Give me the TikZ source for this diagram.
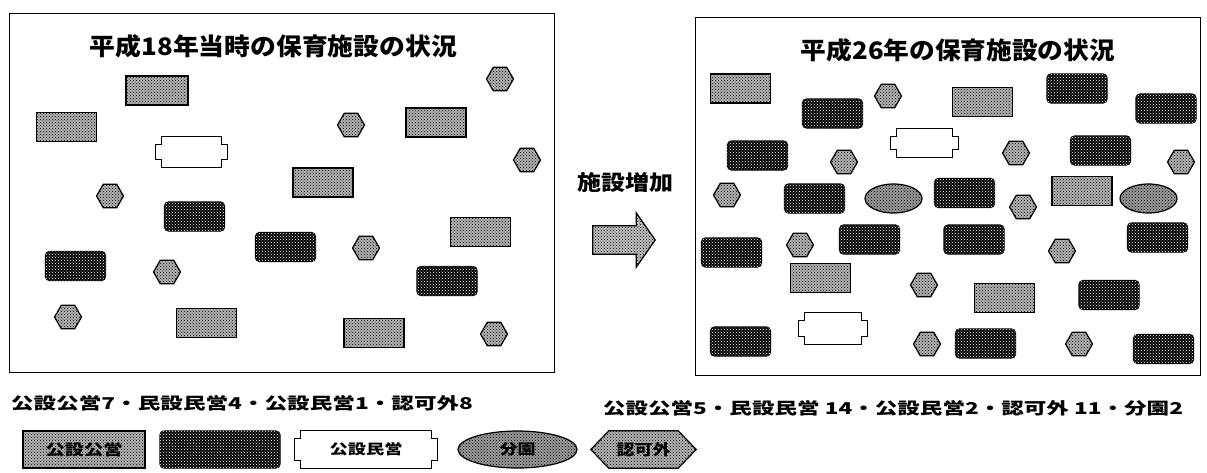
\documentclass[tikz,border=0pt]{standalone}
\usepackage{fontspec}
\newfontfamily\jp{Noto Sans CJK JP}
\usetikzlibrary{patterns,shapes.geometric}
\tikzset{
  frame/.style={draw=black, line width=1.4pt},
  kouei/.style={draw=black, line width=1.2pt, fill=black!30,
    postaction={pattern=crosshatch dots, pattern color=black},
    minimum width=60pt, minimum height=29pt, inner sep=0pt},
  minei/.style={draw=black, line width=1.2pt, fill=black, rounded corners=4pt,
    postaction={pattern=crosshatch dots, pattern color=white}},
  mineibox/.style={minei, minimum width=60pt, minimum height=29pt, inner sep=0pt},
  ninka/.style={draw=black, line width=1.2pt, fill=black!30,
    postaction={pattern=crosshatch dots, pattern color=black},
    regular polygon, regular polygon sides=6, minimum size=27pt, inner sep=0pt},
  bunen/.style={draw=black, line width=1.2pt, fill=black!40,
    postaction={pattern=crosshatch dots, pattern color=black}, ellipse,
    minimum width=57pt, minimum height=29pt, inner sep=0pt},
  kmbox/.style={inner sep=0pt},
  kmline/.style={draw=black, line width=1.2pt},
  hexline/.style={draw=black, line width=1.2pt, fill=black!30,
    postaction={pattern=crosshatch dots, pattern color=black}},
  arrline/.style={draw=black, line width=1.2pt, fill=black!25,
    postaction={pattern=crosshatch dots, pattern color=black}},
  txt/.style={inner sep=0pt, font=\jp\bfseries}
}
\newcommand{\koumin}[6]{%
  \node[kmbox, minimum width=#4pt, minimum height=#5pt] (#1) at (#2,#3) {#6};
  \draw[kmline] ([xshift=6pt]#1.north west) -- ([xshift=-6pt]#1.north east)
    -- ++(0,-8pt) -- ++(6pt,0) -- ([yshift=8pt]#1.south east) -- ++(-6pt,0)
    -- ++(0,-8pt) -- ([xshift=6pt]#1.south west) -- ++(0,8pt) -- ++(-6pt,0)
    -- ([yshift=-8pt]#1.north west) -- ++(6pt,0) -- cycle;}
\begin{document}
\begin{tikzpicture}[x=1pt,y=-1pt]
\useasboundingbox (0,0) rectangle (1207,472);
\fill[white] (0,0) rectangle (1207,472);

% ---------- left panel ----------
\node[frame, minimum width=545pt, minimum height=359pt, inner sep=0pt, anchor=north west] (lf) at (9,13) {};
\node[txt] (lt) at (273.5,46) {\resizebox{367pt}{21pt}{平成18年当時の保育施設の状況}};

\node[kouei, minimum width=62pt] (la1) at (157,90.5) {};
\node[kouei] (la2) at (66.5,127) {};
\node[kouei] (la3) at (436,122.5) {};
\node[kouei] (la4) at (323,182.5) {};
\node[kouei] (la5) at (480.5,232) {};
\node[kouei] (la6) at (206.5,323) {};
\node[kouei] (la7) at (374,333) {};

\node[mineibox] (lb1) at (194.5,216.5) {};
\node[mineibox] (lb2) at (285.5,247) {};
\node[mineibox] (lb3) at (75.5,266) {};
\node[mineibox] (lb4) at (447,281) {};

\koumin{lc1}{191.5}{152}{71}{30}{}

\node[ninka] (ld1) at (500,79) {};
\node[ninka] (ld2) at (351,125) {};
\node[ninka] (ld3) at (527,160) {};
\node[ninka] (ld4) at (110,196) {};
\node[ninka] (ld5) at (366,248) {};
\node[ninka] (ld6) at (167,272) {};
\node[ninka] (ld7) at (68,317) {};
\node[ninka] (ld8) at (494,334) {};

\node[txt] (lsum) at (242,403) {\resizebox{462pt}{14pt}{公設公営7・民設民営4・公設民営1・認可外8}};

% ---------- middle ----------
\node[txt] (mid) at (625,182) {\resizebox{96pt}{18pt}{施設増加}};
\node[minimum width=62pt, minimum height=54pt, inner sep=0pt] (arr) at (624,240) {};
\draw[arrline] ([yshift=-13pt]arr.north west) -- ([xshift=-19pt,yshift=-13pt]arr.north east)
  -- ([xshift=-19pt]arr.north east) -- (arr.east) -- ([xshift=-19pt]arr.south east)
  -- ([xshift=-19pt,yshift=13pt]arr.south east) -- ([yshift=13pt]arr.south west) -- cycle;

% ---------- right panel ----------
\node[frame, minimum width=505pt, minimum height=358pt, inner sep=0pt, anchor=north west] (rf) at (695,17) {};
\node[txt] (rt) at (958,50) {\resizebox{314pt}{21pt}{平成26年の保育施設の状況}};

\node[kouei] (ra1) at (740.5,88.5) {};
\node[kouei] (ra2) at (982.5,102) {};
\node[kouei] (ra3) at (1082,191) {};
\node[kouei] (ra4) at (820.5,278) {};
\node[kouei] (ra5) at (1004.5,298) {};

\node[mineibox] (rb1) at (832.5,113.5) {};
\node[mineibox] (rb2) at (1077,88.5) {};
\node[mineibox] (rb3) at (1166,108.5) {};
\node[mineibox] (rb4) at (757.5,155.5) {};
\node[mineibox] (rb5) at (1100.5,150.5) {};
\node[mineibox] (rb6) at (814.5,198.5) {};
\node[mineibox] (rb7) at (964.5,193) {};
\node[mineibox] (rb8) at (731.5,252.5) {};
\node[mineibox] (rb9) at (869.5,239.5) {};
\node[mineibox] (rb10) at (974,239.5) {};
\node[mineibox] (rb11) at (1157.5,237.5) {};
\node[mineibox] (rb12) at (1109,295) {};
\node[mineibox] (rb13) at (740.5,341.5) {};
\node[mineibox] (rb14) at (985.5,343.5) {};
\node[mineibox] (rb15) at (1163.5,349) {};

\node[bunen] (re1) at (893.5,198.5) {};
\node[bunen] (re2) at (1148.5,198.5) {};

\koumin{rc1}{924.5}{143}{67}{28}{}
\koumin{rc2}{833}{328.5}{68}{31}{}

\node[ninka] (rd1) at (888,96) {};
\node[ninka] (rd2) at (844,162) {};
\node[ninka] (rd3) at (1016,153) {};
\node[ninka] (rd4) at (1181,162) {};
\node[ninka] (rd5) at (727,195) {};
\node[ninka] (rd6) at (1023,207) {};
\node[ninka] (rd7) at (800,245) {};
\node[ninka] (rd8) at (1062,251) {};
\node[ninka] (rd9) at (924,285) {};
\node[ninka] (rd10) at (927,344) {};
\node[ninka] (rd11) at (1079,344) {};

\node[txt] (rsum) at (893,408) {\resizebox{580pt}{14pt}{公設公営5・民設民営 14・公設民営2・認可外 11・分園2}};

% ---------- legend ----------
\node[kouei, minimum width=122pt, minimum height=37pt, font=\jp\bfseries] (g1) at (84,449.5) {\resizebox{77pt}{13pt}{公設公営}};
\node[minei, minimum width=120pt, minimum height=37pt, inner sep=0pt] (g2) at (220,449.5) {};
\koumin{g3}{366}{449.5}{142}{37}{\jp\bfseries\resizebox{73pt}{12pt}{公設民営}}
\node[bunen, minimum width=119pt, minimum height=37pt, font=\jp\bfseries] (g4) at (517.5,449.5) {\resizebox{36pt}{12pt}{分園}};
\node[minimum width=105pt, minimum height=37pt, inner sep=0pt] (g5) at (643.5,449.5) {};
\draw[hexline] (g5.west) -- ([xshift=18pt]g5.north west) -- ([xshift=-18pt]g5.north east)
  -- (g5.east) -- ([xshift=-18pt]g5.south east) -- ([xshift=18pt]g5.south west) -- cycle;
\node[txt] (g5t) at (g5) {\resizebox{54pt}{13pt}{認可外}};
\end{tikzpicture}
\end{document}
